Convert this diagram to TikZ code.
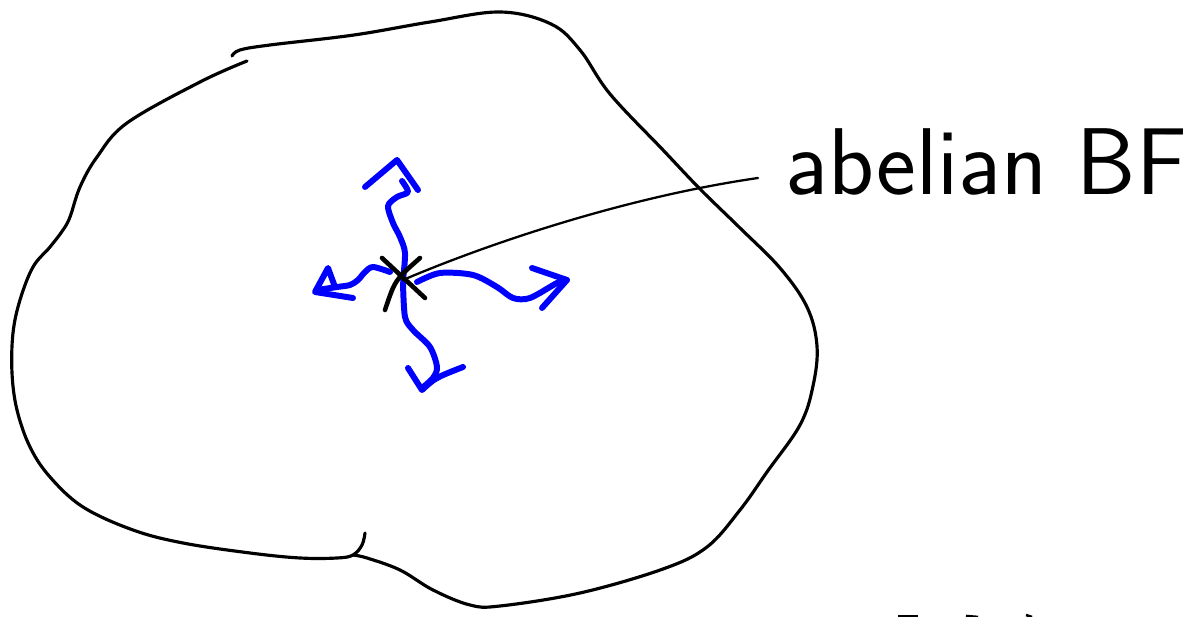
\documentclass[tikz,border=0pt]{standalone}
\usepackage{fontspec}
\usepackage{tikz}
\usetikzlibrary{
  calc,       % 坐标计算
  positioning % 节点相对定位
}

\begin{document}
\begin{tikzpicture}[x=0.02cm, y=-0.02cm,
  outline/.style={line width=1.8pt, line cap=round, line join=round},
  flow/.style={blue, line width=3.4pt, line cap=round, line join=round},
  leader/.style={line width=1.3pt, line cap=round},
  cross/.style={line width=2.6pt, line cap=round}]
  \useasboundingbox (0,0) rectangle (1187,617);

  % 区域边界：上方与右侧一笔
  \draw[outline] plot[smooth, tension=0.6] coordinates {
    (232,56) (240,50) (270,45) (354,35) (430,22) (500,12) (551,24) (580,50)
    (610,94) (663,150) (700,189) (740,228) (780,268) (807,307) (817,346)
    (813,386) (800,425) (767,472) (740,510) (707,547) (663,569) (580,593)
    (500,606) (470,605) (433,590) (400,570) (367,558) (353,555)};

  % 区域边界：左侧与下方一笔，末端回钩
  \draw[outline] plot[smooth, tension=0.6] coordinates {
    (247,61) (200,82) (127,123) (97,157) (80,187) (70,217) (63,230) (50,247)
    (33,267) (20,300) (13,333) (12,373) (17,410) (30,447) (50,477) (83,507)
    (133,530) (183,543) (250,553) (300,558) (337,558) (353,555) (362,545)
    (365,533)};

  % 中心点
  \coordinate (bf) at (403,280);

  % 四个方向的蓝色箭头
  \draw[flow] plot[smooth] coordinates {(bf) (405,253) (400,237) (393,223)
    (388,206) (397,197) (408,192) (402,181)};
  \draw[flow] (365,187) -- (397,160) -- (418,190);

  \draw[flow] plot[smooth] coordinates {(417,282) (440,273) (473,275)
    (497,287) (513,298) (530,298) (557,283) (567,280)};
  \draw[flow] (532,268) -- (567,280) -- (542,308);

  \draw[flow] plot[smooth] coordinates {(390,272) (373,267) (365,272)
    (358,280) (350,285) (337,287) (317,290)};
  \draw[flow] (353,298) -- (315,292) -- (328,268) -- (335,287);

  \draw[flow] plot[smooth] coordinates {(403,283) (405,317) (413,330)
    (430,347) (437,367) (433,378) (422,388)};
  \draw[flow] (408,368) -- (422,390) .. controls (435,378) .. (463,367);

  % 叉号
  \draw[cross] (382,258) -- (425,298);
  \draw[cross] (420,258) .. controls (395,280) .. (385,310);

  % 标签与引线
  \node[anchor=base west, inner sep=0,
        font=\sffamily\fontsize{54}{54}\selectfont] (lbl) at (785,195)
    {abelian BF};
  \coordinate (lblend) at (758,178);
  \draw[leader] (bf) .. controls (480,247) and (620,198) .. (lblend);

  % 底部被截去的字迹
  \draw[line width=1.5pt] (898,616) -- (918,616);
  \draw[line width=1.5pt] (966,616) -- (978,617);
  \draw[line width=1.5pt] (1026,615) -- (1032,617);
\end{tikzpicture}
\end{document}
